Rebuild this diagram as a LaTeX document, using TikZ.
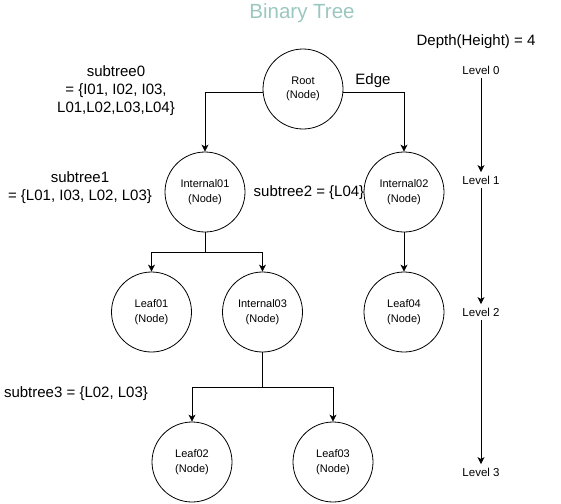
\documentclass[tikz,border=0pt]{standalone}
\usepackage{fontspec}
\setmainfont{Liberation Sans}
\usetikzlibrary{arrows.meta}
\definecolor{titlecol}{RGB}{154,199,191}
\tikzset{
  treenode/.style={draw, circle, minimum size=80pt, inner sep=0pt,
    align=center, font=\fontsize{11}{14.5}\selectfont, line width=0.8pt},
  lbl/.style={align=center, font=\fontsize{15}{18}\selectfont, inner sep=1pt},
  lvl/.style={font=\fontsize{11.5}{13}\selectfont, inner sep=3.5pt},
  conn/.style={line width=0.8pt},
  arr/.style={line width=0.8pt, -{Stealth[length=7pt,width=7pt,inset=2pt]}}
}
\begin{document}
\begin{tikzpicture}[x=1pt,y=-1pt]
\useasboundingbox (0,0) rectangle (561,503);
\node[font=\fontsize{20.5}{24}\selectfont, text=titlecol] (title) at (302,13) {Binary Tree};
\node[lbl] (depth) at (476,42) {Depth(Height) = 4};

\node[treenode] (root) at (303,89) {Root\\(Node)};
\node[treenode] (i1) at (205,192) {Internal01\\(Node)};
\node[treenode] (i2) at (404,192) {Internal02\\(Node)};
\node[treenode] (l1) at (151.5,312) {Leaf01\\(Node)};
\node[treenode] (i3) at (262.5,312) {Internal03\\(Node)};
\node[treenode] (l4) at (404,312) {Leaf04\\(Node)};
\node[treenode] (l2) at (192,462) {Leaf02\\(Node)};
\node[treenode] (l3) at (333,462) {Leaf03\\(Node)};

\node[lbl] (edge) at (373,81) {Edge};
\node[lbl] (st0) at (116,91) {subtree0\\= \{I01, I02, I03,\\L01,L02,L03,L04\}};
\node[lbl] (st1) at (80,187.5) {subtree1\\= \{L01, I03, L02, L03\}};
\node[lbl] (st2) at (309,193) {subtree2 = \{L04\}};
\node[lbl] (st3) at (76,394) {subtree3 = \{L02, L03\}};

\node[lvl] (v0) at (481,70) {Level 0};
\node[lvl] (v1) at (481,180) {Level 1};
\node[lvl] (v2) at (481,312) {Level 2};
\node[lvl] (v3) at (481,472) {Level 3};

\coordinate (j1) at (205,252);
\coordinate (j3) at (262.5,387);

\draw[arr] ([yshift=-3pt]root.west) -| (i1.north);
\draw[arr] ([yshift=-3pt]root.east) -| (i2.north);
\draw[conn] (i1.south) -- (j1);
\draw[arr] (j1) -| (l1.north);
\draw[arr] (j1) -| (i3.north);
\draw[arr] (i2.south) -- (l4.north);
\draw[conn] (i3.south) -- (j3);
\draw[arr] (j3) -| (l2.north);
\draw[arr] (j3) -| (l3.north);

\draw[arr] (v0) -- (v1);
\draw[arr] (v1) -- (v2);
\draw[arr] (v2) -- (v3);
\end{tikzpicture}
\end{document}
